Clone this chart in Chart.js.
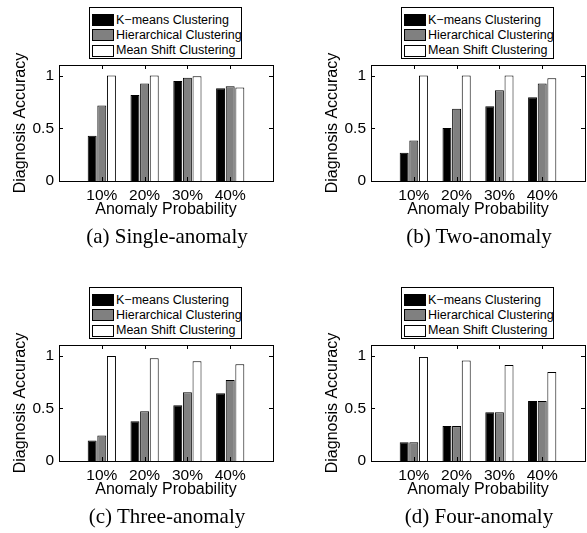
<!DOCTYPE html>
<html>
<head>
<meta charset="utf-8">
<script src="https://cdn.jsdelivr.net/npm/chart.js@4.4.1/dist/chart.umd.min.js"></script>
<style>
body { margin: 0; background: #fff; width: 587px; height: 533px; position: relative; overflow: hidden; font-family: "Liberation Sans", Arial, sans-serif; }
.panel { position: absolute; width: 278px; height: 255px; }
.panel canvas { position: absolute; left: 0; top: 0; }
.legend { position: absolute; left: 89px; top: 7px; width: 151px; height: 50px; border: 1px solid #000; background: #fff; }
.legend .row { position: absolute; left: 0; height: 15px; line-height: 15px; font-size: 12.5px; white-space: nowrap; }
.legend .sw { position: absolute; left: 2px; width: 20px; height: 10px; border: 1px solid #000; }
.legend .tx { position: absolute; left: 26px; top: 0; }
.caption { position: absolute; left: 60px; width: 214px; top: 226px; text-align: center; font-family: "Liberation Serif", "Times New Roman", serif; font-size: 21px; line-height: 21px; white-space: nowrap; }
</style>
</head>
<body>
<div id="pa" class="panel" style="left:0;top:0"></div>
<div id="pb" class="panel" style="left:312px;top:0"></div>
<div id="pc" class="panel" style="left:0;top:280px"></div>
<div id="pd" class="panel" style="left:312px;top:280px"></div>
<script>
var categories = ["10%", "20%", "30%", "40%"];
var seriesNames = ["K\u2212means Clustering", "Hierarchical Clustering", "Mean Shift Clustering"];
var seriesColors = ["#000000", "#808080", "#ffffff"];
var yTicks = [0, 0.5, 1];

// (a) Single-anomaly
var kmeansA = [0.43, 0.816, 0.949, 0.88];
var hierA = [0.715, 0.924, 0.978, 0.899];
var shiftA = [1.0, 1.0, 0.994, 0.886];
// (b) Two-anomaly
var kmeansB = [0.269, 0.503, 0.709, 0.794];
var hierB = [0.383, 0.684, 0.861, 0.924];
var shiftB = [1.0, 1.0, 1.0, 0.975];
// (c) Three-anomaly
var kmeansC = [0.194, 0.376, 0.529, 0.643];
var hierC = [0.242, 0.471, 0.653, 0.768];
var shiftC = [0.995, 0.975, 0.946, 0.917];
// (d) Four-anomaly
var kmeansD = [0.178, 0.331, 0.462, 0.57];
var hierD = [0.178, 0.331, 0.462, 0.57];
var shiftD = [0.987, 0.952, 0.911, 0.844];

// inward ticks and the closed axes box, matlab style
var axisBox = {
	id: 'axisBox',
	afterDraw: function(chart) {
		var ctx = chart.ctx, a = chart.chartArea, x = chart.scales.x, y = chart.scales.y;
		ctx.save();
		ctx.strokeStyle = '#000';
		ctx.lineWidth = 1;
		ctx.beginPath();
		yTicks.forEach(function(v) {
			if (v === 0) return;
			var py = Math.round(y.getPixelForValue(v)) + 0.5;
			ctx.moveTo(a.left, py); ctx.lineTo(a.left + 4, py);
			ctx.moveTo(a.right, py); ctx.lineTo(a.right - 4, py);
		});
		categories.forEach(function(c, i) {
			var px = Math.round(x.getPixelForValue(i + 1)) + 0.5;
			ctx.moveTo(px, a.top); ctx.lineTo(px, a.top + 4);
			ctx.moveTo(px, a.bottom); ctx.lineTo(px, a.bottom - 4);
		});
		ctx.stroke();
		ctx.strokeRect(Math.round(a.left) + 0.5, Math.round(a.top) + 0.5,
			Math.round(a.right - a.left), Math.round(a.bottom - a.top));
		ctx.restore();
	}
};

function buildPanel(id, caption, kmeans, hier, shift) {
	var panel = document.getElementById(id);
	var canvas = document.createElement('canvas');
	canvas.width = 278;
	canvas.height = 226;
	panel.appendChild(canvas);

	var values = [kmeans, hier, shift];
	var labels = [''].concat(categories, ['']);

	var chart = new Chart(canvas.getContext('2d'), {
		type: 'bar',
		data: {
			labels: labels,
			datasets: values.map(function(v, i) {
				return {
					label: seriesNames[i],
					data: [null].concat(v, [null]),
					backgroundColor: seriesColors[i],
					borderColor: '#000',
					borderWidth: 1,
					categoryPercentage: 0.675,
					barPercentage: 0.93
				};
			})
		},
		plugins: [axisBox],
		options: {
			responsive: false,
			animation: false,
			layout: { padding: { left: 0, top: 65, right: 2, bottom: 7 } },
			plugins: { legend: { display: false }, tooltip: { enabled: false } },
			scales: {
				x: {
					offset: false,
					grid: { display: false, drawTicks: false },
					border: { display: false },
					ticks: { autoSkip: false, maxRotation: 0, padding: 5, color: '#000',
						font: { family: 'Liberation Sans', size: 15.5 } },
					title: { display: true, text: 'Anomaly Probability', color: '#000',
						padding: { top: 0, bottom: 0 }, font: { family: 'Liberation Sans', size: 16 } },
					afterFit: function(s) { s.height = 38; }
				},
				y: {
					min: 0,
					max: 1.1,
					grid: { display: false, drawTicks: false },
					border: { display: false },
					afterBuildTicks: function(s) { s.ticks = yTicks.map(function(v) { return { value: v }; }); },
					ticks: { padding: 5, color: '#000', font: { family: 'Liberation Sans', size: 15.5 },
						callback: function(v) { return String(v); } },
					title: { display: true, text: 'Diagnosis Accuracy', color: '#000',
						padding: { top: 11.4, bottom: 0 }, font: { family: 'Liberation Sans', size: 16 } },
					afterFit: function(s) { s.width = 59; }
				}
			}
		}
	});

	// legend box
	var leg = document.createElement('div');
	leg.className = 'legend';
	seriesNames.forEach(function(name, i) {
		var row = document.createElement('div');
		row.className = 'row';
		row.style.top = (4.5 + i * 15.3) + 'px';
		var sw = document.createElement('span');
		sw.className = 'sw';
		sw.style.background = seriesColors[i];
		sw.style.top = '1.5px';
		var tx = document.createElement('span');
		tx.className = 'tx';
		tx.textContent = name;
		row.appendChild(sw);
		row.appendChild(tx);
		leg.appendChild(row);
	});
	panel.appendChild(leg);

	var cap = document.createElement('div');
	cap.className = 'caption';
	cap.textContent = caption;
	panel.appendChild(cap);
	return chart;
}

buildPanel('pa', '(a) Single-anomaly', kmeansA, hierA, shiftA);
buildPanel('pb', '(b) Two-anomaly', kmeansB, hierB, shiftB);
buildPanel('pc', '(c) Three-anomaly', kmeansC, hierC, shiftC);
buildPanel('pd', '(d) Four-anomaly', kmeansD, hierD, shiftD);
</script>
</body>
</html>
